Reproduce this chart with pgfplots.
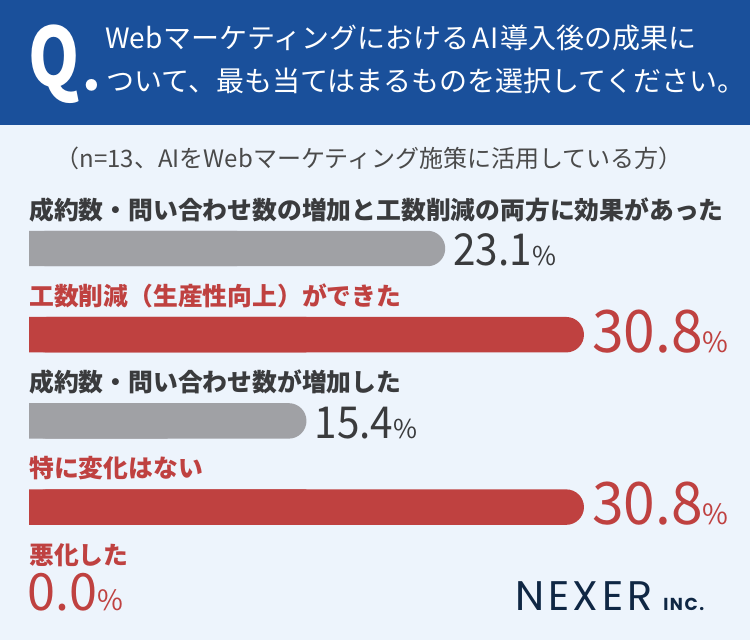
\documentclass[border=0pt]{standalone}
\usepackage{pgfplots}
\usepackage{pgfplotstable}
\pgfplotsset{compat=1.18}
\usepackage{graphicx}
\usepackage{fontspec}
\setmainfont{Noto Sans CJK JP}
\newfontfamily\logofont[LetterSpace=9]{Poppins}
\definecolor{hdr}{HTML}{1A509B}
\definecolor{bg}{HTML}{EDF4FC}
\definecolor{barred}{HTML}{BF4140}
\definecolor{bargray}{HTML}{A0A1A5}
\definecolor{txt}{HTML}{3A3B3D}
\definecolor{subc}{HTML}{4A4A4A}
\definecolor{navy}{HTML}{0F2744}
\pgfplotstableread{
val pos
23.1 0
15.4 2
}\graydata
\pgfplotstableread{
val pos
30.8 1
30.8 3
}\reddata
\pgfplotstableread{
val pos
0.0 4
}\zerodata
\begin{document}
\begin{tikzpicture}[x=0.75pt,y=0.75pt]
\useasboundingbox (0,0) rectangle (750,640);
\fill[bg] (0,0) rectangle (750,640);
\fill[hdr] (0,515) rectangle (750,640);
\node[anchor=base west,inner sep=0pt,text=white,font=\bfseries\fontsize{61}{61}\selectfont] at (28,553) {\scalebox{0.8}[1]{Q}};
\node[anchor=base west,inner sep=0pt,text=white,font=\bfseries\fontsize{40}{40}\selectfont] at (82,549) {.};
\node[anchor=west,inner sep=0pt,text=white,font=\fontsize{21}{24}\selectfont] at (105,602) {Web\hspace{1pt}マーケティングにおける\hspace{2pt}A\hspace{1pt}I\hspace{1pt}導入後の成果に};
\node[anchor=west,inner sep=0pt,text=white,font=\fontsize{21}{24}\selectfont] at (106,559) {ついて、最も当てはまるものを選択してください。};
\node[anchor=center,inner sep=0pt,text=subc,font=\fontsize{18}{20}\selectfont] at (369,482) {（n=13、AIをWebマーケティング施策に活用している方）};
\begin{axis}[at={(21.75pt,2.7pt)}, anchor=south west, scale only axis,
  width=536.5pt, height=323.25pt, clip=false,
  xmin=0, xmax=39.7, ymin=-0.5, ymax=4.5, y dir=reverse,
  axis line style={draw=none}, major tick length=0pt,
  xtick=\empty, ytick={0,1,2,3,4},
  yticklabels={{\color{txt}成約数・問い合わせ数の増加と工数削減の両方に効果があった},
               {\color{barred}工数削減（生産性向上）ができた},
               {\color{txt}成約数・問い合わせ数が増加した},
               {\color{barred}特に変化はない},
               {\color{barred}悪化した}},
  yticklabel style={anchor=west, inner sep=0pt, yshift=28.9pt, font=\bfseries\fontsize{18.6}{20}\selectfont},
  point meta=x, /pgf/number format/assume math mode=true,
  xbar, bar width=26.6pt, bar shift=0pt]
% rounded bars
\addplot[fill=bargray, draw=none, rounded corners=13.3pt,
  nodes near coords={\scalebox{0.92}[1]{\pgfmathprintnumber[fixed,fixed zerofill,precision=1]{\pgfplotspointmeta}}{\fontsize{19.5}{20}\selectfont\%}},
  nodes near coords style={text=txt, anchor=base west, inner sep=0pt, xshift=6pt, yshift=-13pt, font=\fontsize{33}{33}\selectfont}]
  table[x=val,y=pos] {\graydata};
\addplot[fill=barred, draw=none, rounded corners=13.3pt,
  nodes near coords={\scalebox{0.97}[1]{\pgfmathprintnumber[fixed,fixed zerofill,precision=1]{\pgfplotspointmeta}}{\fontsize{21}{22}\selectfont\%}},
  nodes near coords style={text=barred, anchor=base west, inner sep=0pt, xshift=6pt, yshift=-13pt, font=\fontsize{44}{44}\selectfont}]
  table[x=val,y=pos] {\reddata};
\addplot[fill=none, draw=none,
  nodes near coords={\scalebox{0.98}[1]{\pgfmathprintnumber[fixed,fixed zerofill,precision=1]{\pgfplotspointmeta}}{\fontsize{21}{22}\selectfont\%}},
  nodes near coords style={text=barred, anchor=base west, inner sep=0pt, xshift=-1.5pt, yshift=-13pt, font=\fontsize{38.5}{39}\selectfont}]
  table[x=val,y=pos] {\zerodata};
% square left halves (same data) so only the right end is rounded
\addplot[fill=bargray, draw=none, forget plot, x filter/.expression={x/2}] table[x=val,y=pos] {\graydata};
\addplot[fill=barred, draw=none, forget plot, x filter/.expression={x/2}] table[x=val,y=pos] {\reddata};
\end{axis}
\node[anchor=base west,inner sep=0pt,text=navy,font=\logofont\fontsize{31}{31}\selectfont] at (515,30) {NEXER};
\node[anchor=base west,inner sep=0pt,text=navy,font=\logofont\bfseries\fontsize{13}{13}\selectfont] at (663,30) {INC.};
\end{tikzpicture}
\end{document}
